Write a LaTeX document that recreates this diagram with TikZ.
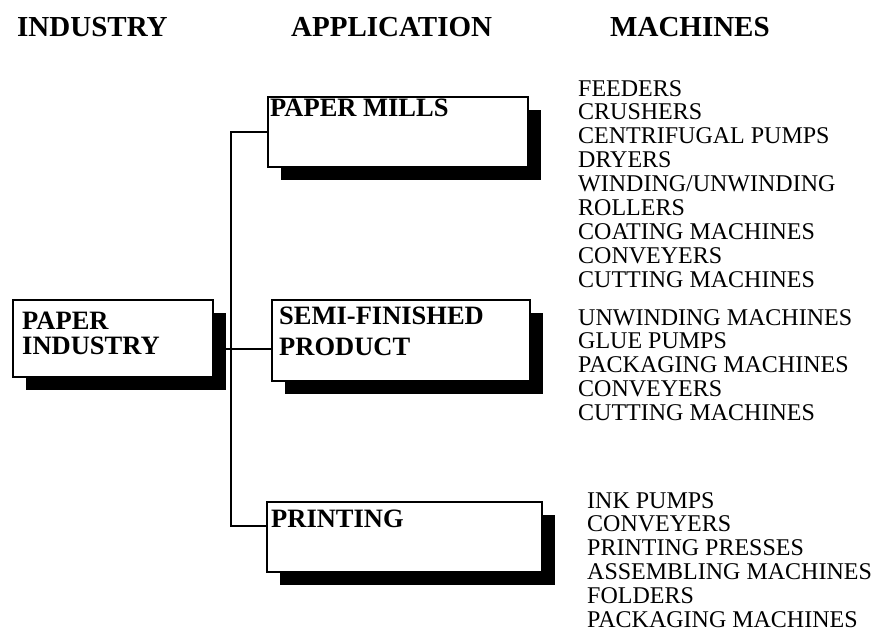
\documentclass[tikz,border=0pt]{standalone}
\usepackage{fontspec}
\setmainfont{Liberation Serif}
\usetikzlibrary{positioning,shadows}

\tikzset{
  head/.style={font=\fontsize{29}{30}\selectfont\bfseries, inner sep=0pt, anchor=base west},
  appbox/.style={draw, line width=2.2pt, fill=white, inner sep=0pt, anchor=north west,
    drop shadow={shadow xshift=13pt, shadow yshift=-13pt, fill=black, opacity=1}},
  boxtext/.style={font=\fontsize{26.5}{25}\selectfont\bfseries, inner sep=0pt, align=left},
  item/.style={font=\fontsize{24}{24}\selectfont, inner sep=0pt, anchor=base west},
  link/.style={line width=2.2pt},
}

\begin{document}
\begin{tikzpicture}[x=1pt,y=-1pt]
  \useasboundingbox (0,0) rectangle (878,633);

  % column heads
  \node[head] (hind) at (17,36) {INDUSTRY};
  \node[head] (happ) at (291,36) {APPLICATION};
  \node[head] (hmac) at (610,36) {MACHINES};

  % boxes
  \node[appbox, minimum width=200pt, minimum height=77pt] (pi) at (12,299) {};
  \node[appbox, minimum width=260pt, minimum height=70pt] (pm) at (267,96) {};
  \node[appbox, minimum width=258pt, minimum height=81pt] (sf) at (271,299) {};
  \node[appbox, minimum width=275pt, minimum height=70pt] (pr) at (266,501) {};

  \node[boxtext, below right=12.6pt and 10pt of pi.north west] (pitext) {PAPER\\INDUSTRY};
  \node[boxtext, below right=3pt and 3pt of pm.north west] (pmtext) {PAPER MILLS};
  \node[boxtext, below right=7.6pt and 8pt of sf.north west] (sftext) {SEMI-FINISHED\\[6pt]PRODUCT};
  \node[boxtext, below right=9pt and 5pt of pr.north west] (prtext) {PRINTING};

  % tree lines
  \coordinate (trunk) at (231,349);
  \draw[link] (pm.west) -| (trunk);
  \draw[link] (trunk) |- ([yshift=-25pt]pr.north west);
  \draw[link] ([yshift=-50pt]pi.north east) -- ([yshift=-50pt]sf.north west);

  % machine lists
  \foreach \t [count=\i] in {FEEDERS, CRUSHERS, CENTRIFUGAL PUMPS, DRYERS, WINDING/UNWINDING,
      ROLLERS, COATING MACHINES, CONVEYERS, CUTTING MACHINES}
    \node[item] (pm-\i) at (578,{96+23.9*(\i-1)}) {\t};
  \foreach \t [count=\i] in {UNWINDING MACHINES, GLUE PUMPS, PACKAGING MACHINES,
      CONVEYERS, CUTTING MACHINES}
    \node[item] (sf-\i) at (578,{325+23.8*(\i-1)}) {\t};
  \foreach \t [count=\i] in {INK PUMPS, CONVEYERS, PRINTING PRESSES, ASSEMBLING MACHINES,
      FOLDERS, PACKAGING MACHINES}
    \node[item] (pr-\i) at (587,{508+23.8*(\i-1)}) {\t};
\end{tikzpicture}
\end{document}
